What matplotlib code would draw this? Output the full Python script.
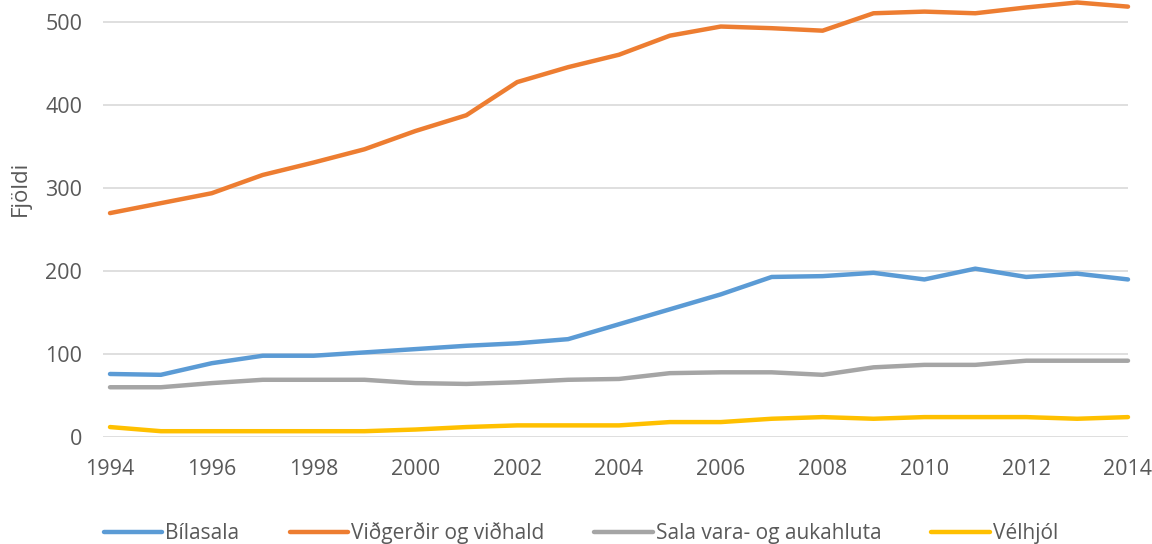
import matplotlib
matplotlib.use("Agg")
import matplotlib.pyplot as plt

years = list(range(1994, 2015))
bilasala = [76, 75, 89, 98, 98, 102, 106, 110, 113, 118, 136, 154, 172, 193, 194, 198, 190, 203, 193, 197, 190]
vidgerdir = [270, 282, 294, 316, 331, 347, 369, 388, 428, 446, 461, 484, 495, 493, 490, 511, 513, 511, 518, 524, 519]
sala_vara = [60, 60, 65, 69, 69, 69, 65, 64, 66, 69, 70, 77, 78, 78, 75, 84, 87, 87, 92, 92, 92]
velhjol = [12, 7, 7, 7, 7, 7, 9, 12, 14, 14, 14, 18, 18, 22, 24, 22, 24, 24, 24, 22, 24]

series_names = ["Bílasala", "Viðgerðir og viðhald", "Sala vara- og aukahluta", "Vélhjól"]
colors = ["#5B9BD5", "#ED7D31", "#A5A5A5", "#FFC000"]
yticks = [0, 100, 200, 300, 400, 500]
xticks = list(range(1994, 2015, 2))

plt.rcParams['font.family'] = ['Open Sans', 'DejaVu Sans']
fig = plt.figure(figsize=(11.52, 5.44), dpi=100)
ax = fig.add_axes([103/1152, 1 - 437/544, (1128-103)/1152, 437/544])

for data, name, c in zip([bilasala, vidgerdir, sala_vara, velhjol], series_names, colors):
    ax.plot(years, data, color=c, lw=3.2, label=name, solid_capstyle='round',
            solid_joinstyle='round', clip_on=False, zorder=3)

ax.set_xlim(1994 - 7/50.9, 2014)
ax.set_ylim(0, 527)
ax.set_yticks(yticks)
ax.set_xticks(xticks)
ax.grid(axis='y', color='#d9d9d9', lw=1.2)
ax.set_axisbelow(True)
for s in ax.spines.values():
    s.set_visible(False)
ax.tick_params(axis='both', length=0, labelsize=15.5, colors='#595959')
ax.tick_params(axis='y', pad=15)
ax.tick_params(axis='x', pad=16)
ax.set_ylabel("Fjöldi", fontsize=16, color='#595959')
ax.yaxis.set_label_coords(-72/1025, (437-188)/437)

fig.legend(loc='center', bbox_to_anchor=(581/1152, 11/544), ncol=4, frameon=False,
           fontsize=15, handlelength=2.8, handletextpad=0.15, columnspacing=2.4,
           labelcolor='#595959')

fig.savefig("out.png", dpi=100)
